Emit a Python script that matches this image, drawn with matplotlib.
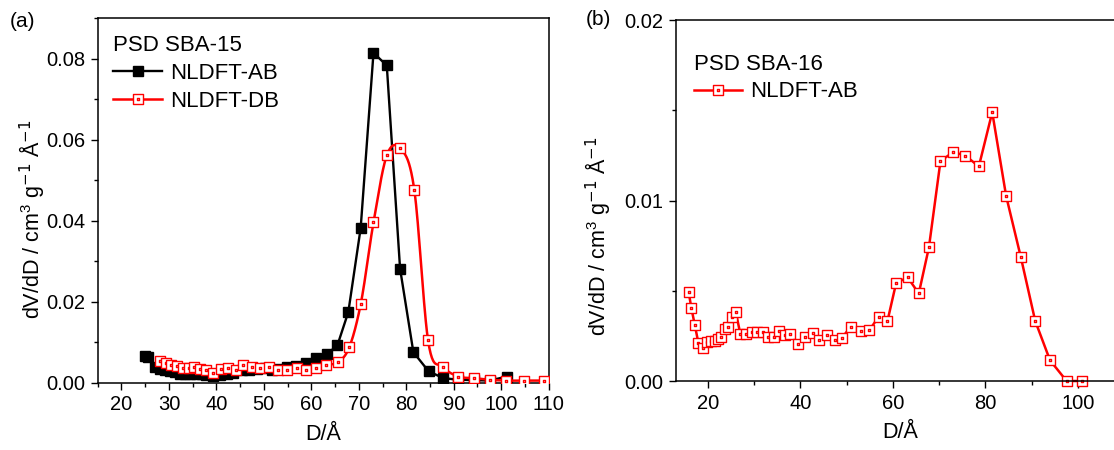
import numpy as np
import matplotlib
matplotlib.use("Agg")
import matplotlib.pyplot as plt
from matplotlib.path import Path
from matplotlib.ticker import MultipleLocator, FormatStrFormatter

plt.rcParams['font.family'] = ['Liberation Sans', 'DejaVu Sans']
plt.rcParams['mathtext.default'] = 'regular'
plt.rcParams['axes.linewidth'] = 1.1

# ---- data: (a) PSD SBA-15 ----
sba15_ab_d = [24.9, 25.6, 27.0, 28.1, 29.1, 30.2, 31.2, 32.3, 33.3, 34.4, 35.8,
              36.9, 37.9, 39.3, 40.8, 42.2, 43.6, 45.4, 46.8, 48.5, 50.3, 51.7,
              53.1, 54.9, 56.7, 58.8, 60.9, 63.3, 65.5, 67.8, 70.4, 73.1, 75.9,
              78.7, 81.5, 84.7, 87.8, 91.0, 94.3, 97.6, 101.2]
sba15_ab_v = [0.0067, 0.0065, 0.0040, 0.0035, 0.0032, 0.0029, 0.0026, 0.0023,
              0.0021, 0.0021, 0.0021, 0.0021, 0.0019, 0.0017, 0.0019, 0.0022,
              0.0025, 0.0031, 0.0033, 0.0035, 0.0036, 0.0032, 0.0035, 0.0039,
              0.0043, 0.0049, 0.0062, 0.0071, 0.0093, 0.0175, 0.0382, 0.0814,
              0.0783, 0.0282, 0.0076, 0.0029, 0.0012, 0.0008, 0.0007, 0.0006,
              0.0016]

sba15_db_d = [28.1, 29.3, 30.5, 31.7, 33.0, 34.2, 35.3, 36.5, 37.8, 39.2, 41.0,
              42.5, 44.1, 45.7, 47.5, 49.1, 51.0, 53.0, 54.9, 56.9, 58.8, 60.9,
              63.2, 65.6, 68.0, 70.4, 73.1, 75.9, 78.7, 81.7, 84.6, 87.8, 91.0,
              94.3, 97.6, 101.0, 104.9, 109.0]
sba15_db_v = [0.0055, 0.0049, 0.0045, 0.0042, 0.0036, 0.0038, 0.0039, 0.0034,
              0.0033, 0.0025, 0.0035, 0.0036, 0.0033, 0.0045, 0.0039, 0.0037,
              0.0039, 0.0033, 0.0032, 0.0036, 0.0032, 0.0037, 0.0045, 0.0051,
              0.0088, 0.0194, 0.0396, 0.0561, 0.0579, 0.0476, 0.0105, 0.0040,
              0.0016, 0.0012, 0.0008, 0.0006, 0.0006, 0.0006]

# ---- data: (b) PSD SBA-16 ----
sba16_ab_d = [15.8, 16.4, 17.1, 17.9, 18.8, 19.7, 20.6, 21.4, 22.1, 22.7, 23.6,
              24.4, 25.1, 26.0, 27.0, 28.3, 29.4, 30.6, 31.8, 32.9, 34.2, 35.4,
              36.6, 37.8, 39.5, 41.0, 42.6, 44.1, 45.8, 47.4, 48.9, 50.9, 53.0,
              54.9, 56.9, 58.8, 60.7, 63.2, 65.6, 67.8, 70.3, 73.1, 75.7, 78.6,
              81.5, 84.5, 87.7, 90.8, 94.0, 97.6, 101.0]
sba16_ab_v = [0.00491, 0.00402, 0.00313, 0.00211, 0.00185, 0.00217, 0.00220,
              0.00222, 0.00235, 0.00244, 0.00287, 0.00300, 0.00357, 0.00380,
              0.00259, 0.00259, 0.00269, 0.00269, 0.00269, 0.00246, 0.00246,
              0.00278, 0.00256, 0.00259, 0.00204, 0.00246, 0.00265, 0.00228,
              0.00256, 0.00228, 0.00237, 0.00302, 0.00278, 0.00281, 0.00356,
              0.00330, 0.00543, 0.00574, 0.00485, 0.00741, 0.01219, 0.01269,
              0.01248, 0.01189, 0.01489, 0.01026, 0.00685, 0.00333, 0.00115,
              0.0, 0.0]

RED = '#ff0000'
YLABEL = r'dV/dD / cm$^3$ g$^{\mathrm{-1}}$ Å$^{\mathrm{-1}}$'


def smooth_line(x, y, n=24):
    # cubic Hermite through the points, like Origin's spline connect
    x = np.asarray(x, float)
    y = np.asarray(y, float)
    m = np.gradient(y, x)
    xs, ys = [], []
    for i in range(len(x) - 1):
        h = x[i + 1] - x[i]
        t = np.linspace(0, 1, n, endpoint=False)
        h00 = 2 * t**3 - 3 * t**2 + 1
        h10 = t**3 - 2 * t**2 + t
        h01 = -2 * t**3 + 3 * t**2
        h11 = t**3 - t**2
        xs.append(x[i] + t * h)
        ys.append(h00 * y[i] + h10 * h * m[i] + h01 * y[i + 1] + h11 * h * m[i + 1])
    xs.append([x[-1]])
    ys.append([y[-1]])
    return np.concatenate(xs), np.concatenate(ys)


# open square with a small dot in the middle (Origin style)
_o, _i = 1.0, 0.14
dot_square = Path(
    [(-_o, -_o), (_o, -_o), (_o, _o), (-_o, _o), (-_o, -_o),
     (-_i, -_i), (_i, -_i), (_i, _i), (-_i, _i), (-_i, -_i)],
    [Path.MOVETO, Path.LINETO, Path.LINETO, Path.LINETO, Path.CLOSEPOLY,
     Path.MOVETO, Path.LINETO, Path.LINETO, Path.LINETO, Path.CLOSEPOLY])


def style_axis(ax):
    ax.tick_params(which='both', direction='out', labelsize=14.5, width=1.0)
    ax.tick_params(which='major', length=5, pad=4)
    ax.tick_params(which='minor', length=3)


fig = plt.figure(figsize=(11.14, 4.5), dpi=100)

# ---------- (a) ----------
ax1 = fig.add_axes([0.0877, 0.1489, 0.4048, 0.8111])
ax1.plot(sba15_ab_d, sba15_ab_v, color='black', lw=1.7, marker='s',
         ms=6.5, mfc='black', mec='black', label='NLDFT-AB', zorder=3)
sx, sy = smooth_line(sba15_db_d, sba15_db_v)
ax1.plot(sx, sy, color=RED, lw=1.8, zorder=4)
ax1.plot(sba15_db_d, sba15_db_v, ls='none', marker=dot_square, ms=7,
         mfc='white', mec=RED, mew=1.0, zorder=5)
ax1.plot([], [], color=RED, lw=1.8, marker=dot_square, ms=7, mfc='white',
         mec=RED, mew=1.0, label='NLDFT-DB')

ax1.set_xlim(15, 110)
ax1.set_ylim(0, 0.09)
ax1.xaxis.set_major_locator(MultipleLocator(10))
ax1.xaxis.set_minor_locator(MultipleLocator(5))
ax1.yaxis.set_major_locator(MultipleLocator(0.02))
ax1.yaxis.set_minor_locator(MultipleLocator(0.01))
ax1.yaxis.set_major_formatter(FormatStrFormatter('%.2f'))
style_axis(ax1)
ax1.set_xlabel('D/Å', fontsize=15.5, labelpad=7)
ax1.set_ylabel(YLABEL, fontsize=15.5)
ax1.yaxis.set_label_coords(-0.112, 0.45)
ax1.legend(loc='upper left', bbox_to_anchor=(0.0, 0.995), frameon=False,
           fontsize=16, title='PSD SBA-15', title_fontsize=16,
           alignment='left', handlelength=2.2, handletextpad=0.35,
           labelspacing=0.3, borderaxespad=0.3, numpoints=1)
fig.text(0.009, 0.94, '(a)', fontsize=15)

# ---------- (b) ----------
ax2 = fig.add_axes([0.6066, 0.1533, 0.4023, 0.8022])
ax2.plot(sba16_ab_d, sba16_ab_v, color=RED, lw=1.8, marker=dot_square, ms=7,
         mfc='white', mec=RED, mew=1.0, label='NLDFT-AB', clip_on=False)
ax2.set_xlim(13, 110)
ax2.set_ylim(0, 0.02)
ax2.xaxis.set_major_locator(MultipleLocator(20))
ax2.xaxis.set_minor_locator(MultipleLocator(10))
ax2.yaxis.set_major_locator(MultipleLocator(0.01))
ax2.yaxis.set_minor_locator(MultipleLocator(0.005))
ax2.yaxis.set_major_formatter(FormatStrFormatter('%.2f'))
style_axis(ax2)
ax2.set_xlabel('D/Å', fontsize=15.5, labelpad=7)
ax2.set_ylabel(YLABEL, fontsize=15.5)
ax2.yaxis.set_label_coords(-0.14, 0.40)
ax2.legend(loc='upper left', bbox_to_anchor=(0.005, 0.95), frameon=False,
           fontsize=16, title='PSD SBA-16', title_fontsize=16,
           alignment='left', handlelength=2.2, handletextpad=0.35,
           labelspacing=0.3, borderaxespad=0.3, numpoints=1)
fig.text(0.526, 0.945, '(b)', fontsize=15)

fig.savefig('out.png', dpi=100)
